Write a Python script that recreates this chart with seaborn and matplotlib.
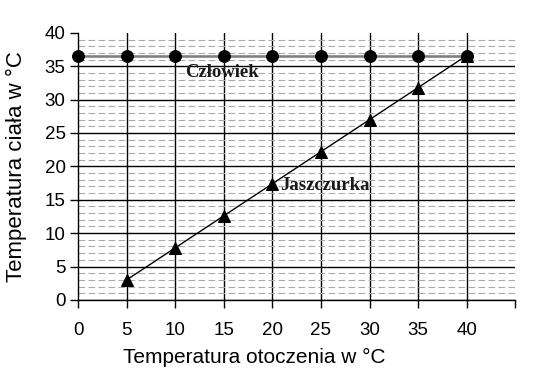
import matplotlib
matplotlib.use("Agg")
import matplotlib.pyplot as plt
import seaborn as sns
import pandas as pd
from matplotlib.ticker import MultipleLocator

sns.set_theme(style="white")
plt.rcParams["font.family"] = ["Liberation Sans", "DejaVu Sans"]

# dane
temp_otoczenia = [0, 5, 10, 15, 20, 25, 30, 35, 40]
temp_czlowiek = [36.6, 36.6, 36.6, 36.6, 36.6, 36.6, 36.6, 36.6, 36.6]
temp_jaszczurka_x = [5, 10, 15, 20, 25, 30, 35, 40]
temp_jaszczurka = [3.0, 7.8, 12.6, 17.4, 22.2, 27.0, 31.8, 36.6]
x_ticks = [0, 5, 10, 15, 20, 25, 30, 35, 40, 45]
x_tick_labels = ["0", "5", "10", "15", "20", "25", "30", "35", "40", ""]
y_ticks = [0, 5, 10, 15, 20, 25, 30, 35, 40]

df_cz = pd.DataFrame({"x": temp_otoczenia, "y": temp_czlowiek})
df_ja = pd.DataFrame({"x": temp_jaszczurka_x, "y": temp_jaszczurka})

fig = plt.figure(figsize=(5.54, 3.91), dpi=100)
ax = fig.add_axes([0.141, 0.233, 0.789, 0.683])

sns.lineplot(data=df_cz, x="x", y="y", ax=ax, color="#808080", linewidth=1.9,
             marker="o", markersize=8.5, markerfacecolor="black",
             markeredgecolor="black", zorder=4, clip_on=False)
sns.lineplot(data=df_ja, x="x", y="y", ax=ax, color="black", linewidth=1.0,
             marker="^", markersize=8.5, markerfacecolor="black",
             markeredgecolor="black", zorder=5, clip_on=False)

ax.set_xlim(0, 45)
ax.set_ylim(0, 40)
ax.set_xticks(x_ticks)
ax.set_xticklabels(x_tick_labels)
ax.set_yticks(y_ticks)
ax.yaxis.set_minor_locator(MultipleLocator(1))

# siatka: pomocnicza przerywana, główna ciągła
ax.grid(axis="y", which="minor", color="#aaaaaa", linestyle=(0, (6, 3)), linewidth=0.8)
ax.grid(axis="y", which="major", color="black", linestyle="-", linewidth=1.0)
ax.grid(axis="x", which="major", color="black", linestyle="-", linewidth=1.0)
ax.set_axisbelow(True)
ax.xaxis.get_gridlines()[-1].set_visible(False)
ax.xaxis.get_gridlines()[0].set_visible(False)
ax.yaxis.get_gridlines()[-1].set_visible(False)

for s in ["top", "right"]:
    ax.spines[s].set_visible(False)
for s in ["left", "bottom"]:
    ax.spines[s].set_color("black")
    ax.spines[s].set_linewidth(1.0)

ax.tick_params(axis="both", which="major", direction="out", length=6, width=1,
               color="black", labelsize=13.5, labelcolor="black", left=True, bottom=True)
ax.tick_params(axis="x", pad=10)
ax.tick_params(axis="y", pad=3)
ax.tick_params(axis="y", which="minor", left=False)

ax.set_xlabel("Temperatura otoczenia w °C", fontsize=15, color="black")
ax.set_ylabel("Temperatura ciała w °C", fontsize=16, color="black")
ax.xaxis.set_label_coords(0.403, -0.18)
ax.yaxis.set_label_coords(-0.117, 0.5)

ax.text(11.0, 34.1, "Człowiek", family=["Liberation Serif", "DejaVu Serif"],
        fontweight="bold", fontsize=13.5, va="center", ha="left", color="#1a1a1a", zorder=6)
ax.text(20.8, 17.1, "Jaszczurka", family=["Liberation Serif", "DejaVu Serif"],
        fontweight="bold", fontsize=13.5, va="center", ha="left", color="#1a1a1a", zorder=6)

fig.savefig("out.png", dpi=100)
